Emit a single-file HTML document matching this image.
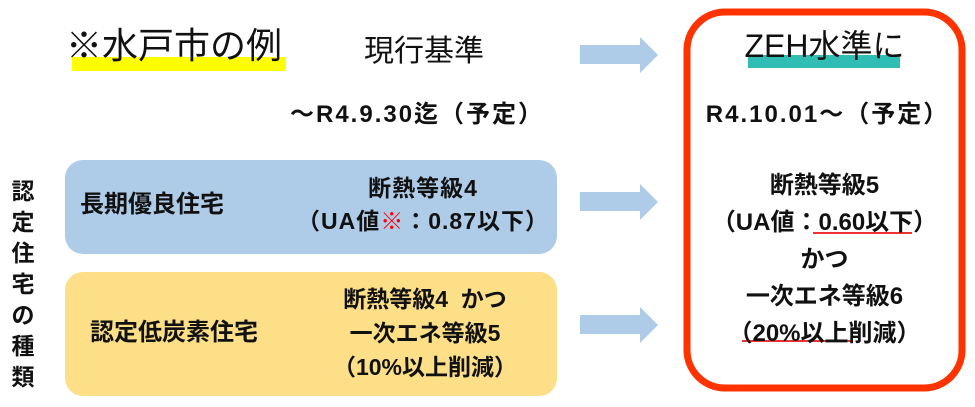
<!DOCTYPE html>
<html><head><meta charset="utf-8"><style>
body{margin:0;width:975px;height:407px;background:#fff;position:relative;overflow:hidden;font-family:"Liberation Sans","Noto Sans CJK JP",sans-serif;color:#111}
.a{position:absolute;white-space:nowrap}
.c{position:absolute;text-align:center;white-space:nowrap}
</style></head><body>
<div class="a" style="left:72px;top:57px;width:214px;height:14px;background:#ffff00"></div>
<div class="a" style="left:66px;top:24px;font-size:36px;line-height:44px">※水戸市の例</div>
<div class="a" style="left:364px;top:32px;font-size:30px;line-height:40px">現行基準</div>
<div class="a" style="left:290px;top:100px;font-size:24px;line-height:30px;font-weight:bold;letter-spacing:2px">～R4.9.30迄（予定）</div>

<svg class="a" style="left:0;top:0" width="975" height="407">
<g fill="#aecbe8">
<polygon points="580,45 640,45 640,37 658,55 640,73 640,64 580,64"/>
<polygon points="580,192 640,192 640,184 658,202 640,220 640,211 580,211"/>
<polygon points="580,315 640,315 640,307 658,325 640,343 640,334 580,334"/>
</g>
<rect x="65" y="160" width="492" height="94" rx="18" fill="#aecbe8"/>
<rect x="65" y="272" width="492" height="124" rx="18" fill="#fddf87"/>
<rect x="687" y="12" width="275" height="376" rx="38" fill="none" stroke="#ff3300" stroke-width="7"/>
<rect x="748" y="55" width="152" height="13" fill="#2fbdb4"/>
<line x1="813" y1="233" x2="912" y2="233" stroke="#e33" stroke-width="2"/>
<line x1="742" y1="341" x2="853" y2="341" stroke="#e33" stroke-width="2"/>
</svg>

<div class="a" style="left:9px;top:176px;width:28px;font-size:23px;line-height:31px;text-align:center;white-space:normal;font-weight:bold">認<br>定<br>住<br>宅<br>の<br>種<br>類</div>

<div class="a" style="left:80px;top:190px;font-size:24px;line-height:30px;font-weight:bold">長期優良住宅</div>
<div class="c" style="left:273px;width:300px;top:172px;font-size:23px;line-height:33px;font-weight:bold;letter-spacing:1px">断熱等級4<br>（UA値<span style="color:#f00">※</span>：0.87以下）</div>

<div class="a" style="left:90px;top:318px;font-size:24px;line-height:30px;font-weight:bold">認定低炭素住宅</div>
<div class="c" style="left:275px;width:300px;top:282px;font-size:23px;line-height:34px;font-weight:bold">断熱等級4&nbsp;&nbsp;かつ<br>一次エネ等級5<br>（10%以上削減）</div>

<div class="c" style="left:687px;width:275px;top:26px;font-size:32px;line-height:40px">ZEH水準に</div>
<div class="c" style="left:690px;width:275px;top:100px;font-size:24px;line-height:30px;font-weight:bold;letter-spacing:2px">R4.10.01～（予定）</div>
<div class="c" style="left:687px;width:275px;top:167px;font-size:24px;line-height:37px;font-weight:bold">断熱等級5<br>（UA値：0.60以下）<br>かつ<br>一次エネ等級6<br>（20%以上削減）</div>
</body></html>
